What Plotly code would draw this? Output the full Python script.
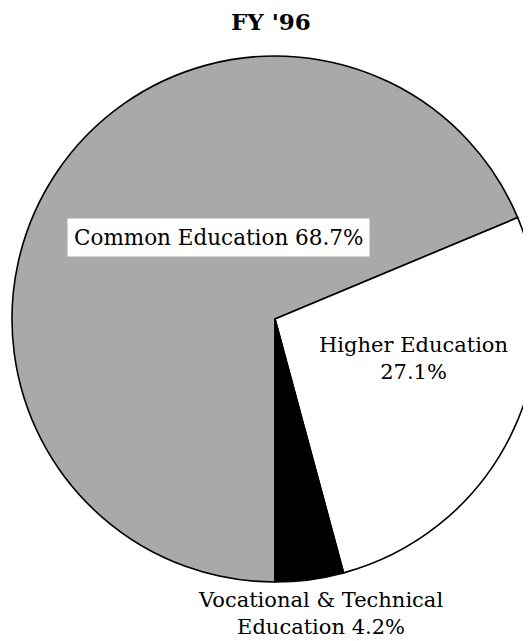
import plotly.graph_objects as go

# Data
categories = ["Common Education", "Higher Education", "Vocational & Technical Education"]
values = [68.7, 27.1, 4.2]
colors = ["#a9a9a9", "#ffffff", "#000000"]
title_text = "FY '96"

W, H = 531, 641
OFF = 8  # page body margin offset

def px(x):
    return (x - OFF) / W

def py(y):
    return 1 - (y - OFF) / H

fig = go.Figure()
fig.add_trace(go.Pie(
    labels=categories,
    values=values,
    sort=False,
    direction="clockwise",
    rotation=180,
    marker=dict(colors=colors, line=dict(color="#000000", width=1.6)),
    textinfo="none",
    hoverinfo="label+percent",
    showlegend=False,
    domain=dict(x=[px(12), px(538)], y=[py(582), py(56)]),
))

font_family = "DejaVu Serif, serif"
fs = 21

ann = []
# Title
ann.append(dict(x=px(271), y=py(22), text="<b>" + title_text + "</b>", showarrow=False,
                xanchor="center", yanchor="middle",
                font=dict(family=font_family, size=23, color="#000000")))
# Common Education label in white box
ann.append(dict(x=px(218.5), y=py(237), text=f"{categories[0]} {values[0]}%", showarrow=False,
                xanchor="center", yanchor="middle", bgcolor="#ffffff", borderpad=6,
                font=dict(family=font_family, size=21.5, color="#000000")))
# Higher Education label (two lines)
ann.append(dict(x=px(413), y=py(358), text=f"{categories[1]}<br>{values[1]}%", showarrow=False,
                xanchor="center", yanchor="middle",
                font=dict(family=font_family, size=fs, color="#000000")))
# Vocational label (two lines, below pie)
ann.append(dict(x=px(320), y=py(613), text=f"Vocational & Technical<br>Education {values[2]}%",
                showarrow=False, xanchor="center", yanchor="middle",
                font=dict(family=font_family, size=fs, color="#000000")))

fig.update_layout(
    width=W, height=H,
    margin=dict(l=0, r=0, t=0, b=0),
    paper_bgcolor="#ffffff",
    plot_bgcolor="#ffffff",
    annotations=ann,
)

fig.write_html("out.html")
